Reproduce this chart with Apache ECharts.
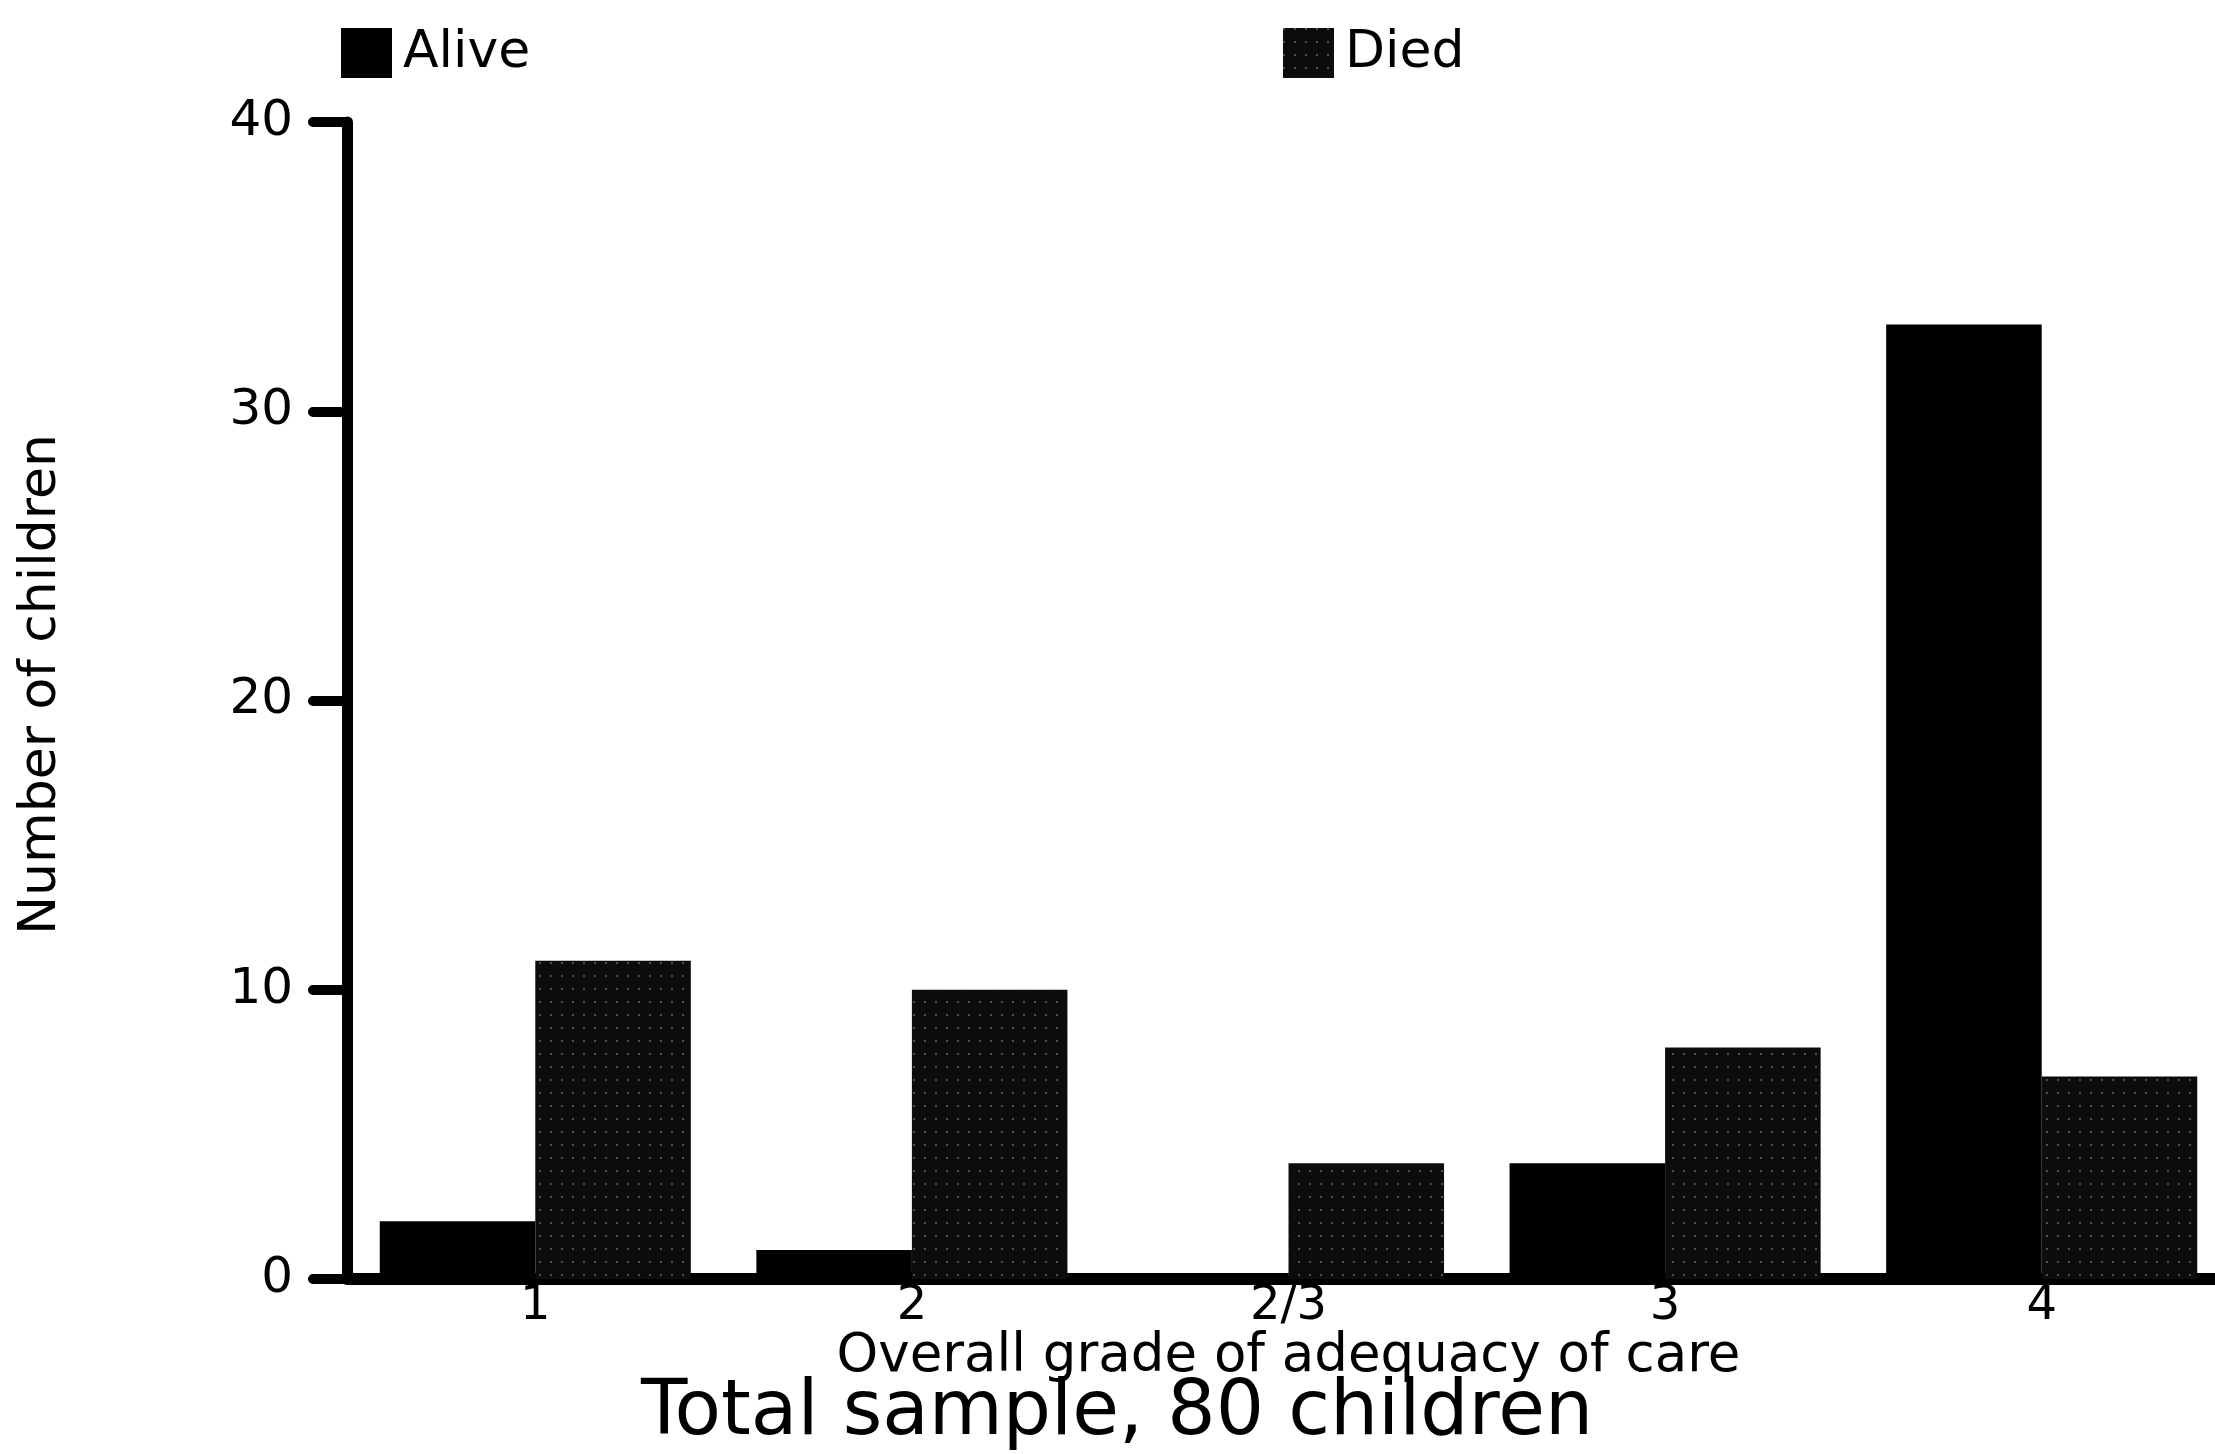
<!DOCTYPE html>
<html>
<head>
<meta charset="utf-8">
<script src="https://cdn.jsdelivr.net/npm/echarts@6/dist/echarts.min.js"></script>
<style>
html,body{margin:0;padding:0;background:#fff;overflow:hidden;width:2215px;height:1454px;}
#chart{width:2230px;height:1454px;}
</style>
</head>
<body>
<div id="chart"></div>
<script>
const categories = ['1', '2', '2/3', '3', '4'];
const aliveValues = [2, 1, 0, 4, 33];
const diedValues = [11, 10, 4, 8, 7];
const yTicks = [0, 10, 20, 30, 40];

const FONT = 'DejaVu Sans';
const chart = echarts.init(document.getElementById('chart'), null, {renderer: 'canvas'});

const diedDecal = {
  symbol: 'rect',
  symbolSize: 1,
  color: 'rgba(255,255,255,0.28)',
  dashArrayX: [2, 9],
  dashArrayY: [2, 11],
  rotation: 0
};

chart.setOption({
  animation: false,
  backgroundColor: '#ffffff',
  textStyle: {fontFamily: FONT, color: '#000'},
  title: {
    text: 'Total sample, 80 children',
    left: 641,
    top: 1376,
    padding: 0,
    textStyle: {fontFamily: FONT, fontSize: 76, fontWeight: 'normal', color: '#000'}
  },
  legend: [
    {
      data: ['Alive'],
      left: 341, top: 27,
      icon: 'rect',
      itemWidth: 51, itemHeight: 50,
      padding: 0,
      textStyle: {fontFamily: FONT, fontSize: 52, color: '#000', padding: [0, 0, 0, 6]}
    },
    {
      data: ['Died'],
      left: 1283, top: 27,
      icon: 'rect',
      itemWidth: 51, itemHeight: 50,
      padding: 0,
      textStyle: {fontFamily: FONT, fontSize: 52, color: '#000', padding: [0, 0, 0, 6]}
    }
  ],
  grid: {left: 347, right: 0, top: 122, bottom: 175, containLabel: false},
  xAxis: {
    type: 'category',
    data: categories,
    name: 'Overall grade of adequacy of care',
    nameLocation: 'middle',
    nameGap: 52,
    nameMoveOverlap: false,
    nameTextStyle: {fontFamily: FONT, fontSize: 53, color: '#000'},
    axisLine: {show: true, lineStyle: {color: '#000', width: 12}},
    axisTick: {show: false},
    axisLabel: {fontFamily: FONT, fontSize: 48, color: '#000', margin: 4},
    splitLine: {show: false}
  },
  yAxis: {
    type: 'value',
    min: 0, max: 40, interval: 10,
    name: 'Number of children',
    nameLocation: 'middle',
    nameGap: 280,
    nameMoveOverlap: false,
    nameTextStyle: {fontFamily: FONT, fontSize: 52, color: '#000', padding: [0, 0, 0, 32]},
    axisLine: {show: true, lineStyle: {color: '#000', width: 11, cap: 'round'}},
    axisTick: {show: true, inside: false, length: 34, lineStyle: {color: '#000', width: 10, cap: 'round'}},
    axisLabel: {
      fontFamily: FONT, fontSize: 50, color: '#000', margin: 54,
      formatter: function (v) { return yTicks.indexOf(v) >= 0 ? String(v) : ''; }
    },
    splitLine: {show: false}
  },
  series: [
    {
      name: 'Alive',
      type: 'bar',
      data: aliveValues,
      barWidth: '41.3%',
      barGap: '0%',
      itemStyle: {color: '#000000'}
    },
    {
      name: 'Died',
      type: 'bar',
      data: diedValues,
      barWidth: '41.3%',
      barGap: '0%',
      itemStyle: {color: '#0c0c0c', decal: diedDecal}
    }
  ]
});
</script>
</body>
</html>
